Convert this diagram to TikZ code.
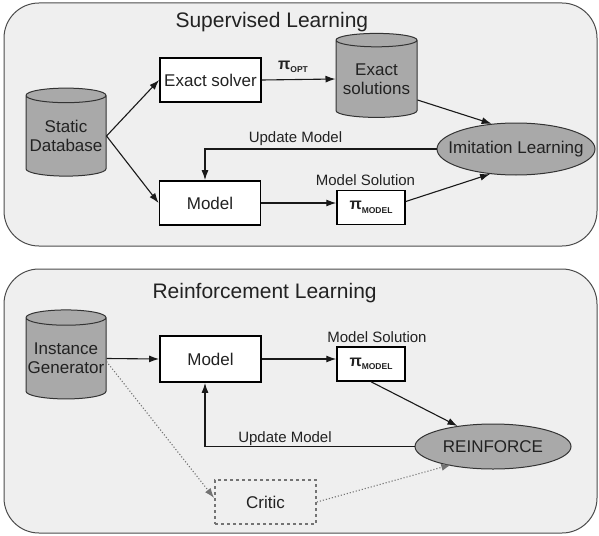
\documentclass[tikz,border=0pt]{standalone}
\usepackage{fontspec}
\setmainfont{Liberation Sans}
\usetikzlibrary{arrows.meta}
\usetikzlibrary{positioning}
\usetikzlibrary{shapes.geometric}

\definecolor{panelgray}{HTML}{EFEFEF}
\definecolor{dbgray}{HTML}{A9A9A9}
\definecolor{txtgray}{HTML}{222222}

\newcommand{\piof}[1]{{\fontsize{16}{16}\selectfont\bfseries π}\raisebox{-3.5pt}{\fontsize{8.5}{8.5}\selectfont\bfseries #1}}

\begin{document}
\begin{tikzpicture}
		[x=1pt,y=-1pt,
		every node/.style={text=txtgray,font=\fontsize{17}{19}\selectfont},
		panel/.style={draw=black!70,fill=panelgray,line width=1pt,rounded corners=35pt},
		box/.style={draw=black,fill=white,line width=1.8pt,minimum width=101pt,minimum height=44pt,inner sep=0pt},
		pibox/.style={draw=black,fill=white,line width=1.5pt,minimum width=68pt,minimum height=34pt,inner sep=0pt},
		db/.style={cylinder,shape border rotate=90,aspect=0.2,draw=black!80,fill=dbgray,line width=1pt,minimum width=80pt,minimum height=88pt,inner sep=0pt,align=center},
		oval/.style={ellipse,draw=black!80,fill=dbgray,line width=1pt,inner sep=0pt},
		lbl/.style={font=\fontsize{15}{17}\selectfont},
		arr/.style={-{Latex[length=10pt,width=7pt]},line width=1.1pt,black!90},
		dotarr/.style={-{Latex[length=10pt,width=7pt]},line width=1.1pt,dotted,black!55}]
		\useasboundingbox (0,0) rectangle (599,535);
		
		% supervised learning
		\draw[panel] (4,3) rectangle (597,246);
		\node[anchor=base west,font=\fontsize{21}{23}\selectfont] (sltitle) at (172,28) {Supervised Learning};
		\node[db] (sdb) at (66,136) {Static\\Database};
		\node[box] (solver) at (210.5,80) {Exact solver};
		\node[db,minimum height=84pt,minimum width=81pt] (exact) at (376.5,79) {Exact\\solutions};
		\node[box] (model1) at (210,203) {Model};
		\node[oval,minimum width=158pt,minimum height=52pt] (imit) at (516,149) {\makebox[0pt]{Imitation Learning}};
		\node[pibox] (pi1) at (371,207.5) {\piof{MODEL}};
		\node (piopt) at (293,67) {\piof{OPT}};
		\node[lbl] (sol1) at (365.5,180) {Model Solution};
		\node[lbl] (upd1) at (295.5,139) {Update Model};
		
		\foreach \from/\to in
		{sdb.east/solver.west, sdb.east/model1.west, solver.east/exact.west}
		\draw[arr] (\from) -- (\to);
		\draw[arr] ([yshift=-21pt]exact.east) -- (imit.134);
		\draw[arr] ([yshift=6pt]pi1.east) -- (imit.224);
		\draw[arr] (model1.east) -- (model1.east -| pi1.west);
		\draw[arr] (imit.west) -| ([xshift=-5pt]model1.north);
		
		% reinforcement learning
		\draw[panel] (4,269) rectangle (597,533);
		\node[anchor=base west,font=\fontsize{21}{23}\selectfont] (rltitle) at (149,298) {Reinforcement Learning};
		\node[db,minimum height=89pt] (gen) at (66,358.5) {Instance\\Generator};
		\node[box,minimum height=46pt] (model2) at (210.5,359) {Model};
		\node[pibox] (pi2) at (371,364) {\piof{MODEL}};
		\node[lbl] (sol2) at (377,336.7) {Model Solution};
		\node[oval,minimum width=156pt,minimum height=45pt] (rf) at (493,446.5) {REINFORCE};
		\node[box,draw=black!55,dashed,fill=none] (critic) at (265.5,502) {Critic};
		\node[lbl] (upd2) at (285,438.3) {Update Model};
		
		\draw[arr] (gen.east) -- (model2.west);
		\draw[arr] (model2.east) -- (model2.east -| pi2.west);
		\draw[arr] (pi2.south) -- (rf.150);
		\draw[arr] (rf.west) -| ([xshift=-5.5pt]model2.south);
		\draw[dotarr] ([yshift=-3pt]gen.east) -- ([yshift=4pt]critic.west);
		\draw[dotarr,shorten >=-3pt] (critic.east) -- (rf.203);
\end{tikzpicture}
\end{document}
